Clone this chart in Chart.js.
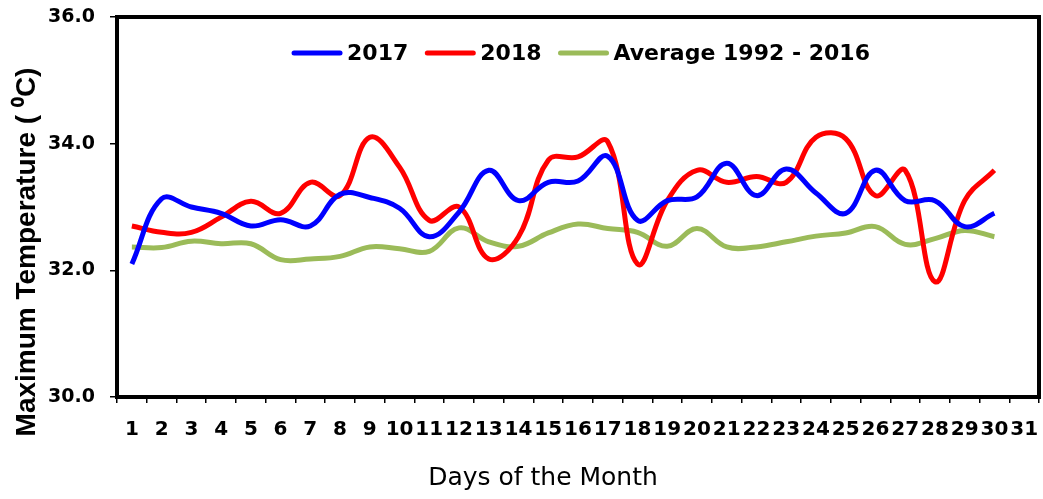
<!DOCTYPE html>
<html>
<head>
<meta charset="utf-8">
<script src="https://cdn.jsdelivr.net/npm/chart.js@4/dist/chart.umd.min.js"></script>
<style>
  html, body { margin: 0; padding: 0; background: #fff; }
  #wrap { width: 1043px; height: 499px; }
</style>
</head>
<body>
<div id="wrap"><canvas id="canvas_max_temp"></canvas></div>
<script>
// days of the month (31 categories, 30 readings)
var days = [];
for (var d = 1; d <= 31; d++) days.push(String(d));

var temp_2017 = [32.1, 33.13, 33.0, 32.9, 32.7, 32.8, 32.7, 33.2, 33.15, 32.98,
                 32.53, 32.92, 33.58, 33.1, 33.39, 33.41, 33.8, 32.79, 33.1, 33.16,
                 33.69, 33.18, 33.6, 33.22, 32.9, 33.58, 33.1, 33.1, 32.69, 32.9];

var temp_2018 = [32.7, 32.6, 32.6, 32.84, 33.09, 32.9, 33.39, 33.18, 34.1, 33.63,
                 32.79, 33.0, 32.18, 32.53, 33.74, 33.79, 34.03, 32.1, 33.1, 33.58,
                 33.39, 33.48, 33.39, 34.1, 34.08, 33.18, 33.58, 31.82, 33.1, 33.58];

var temp_avg = [32.37, 32.36, 32.46, 32.42, 32.42, 32.17, 32.18, 32.22, 32.37, 32.34,
                32.3, 32.67, 32.45, 32.38, 32.59, 32.73, 32.66, 32.6, 32.38, 32.66,
                32.37, 32.37, 32.45, 32.54, 32.59, 32.69, 32.41, 32.5, 32.63, 32.53];

var y_ticks = [30, 32, 34, 36];

var tickFont = { family: "'DejaVu Sans', sans-serif", weight: 'bold', size: 20 };

function lineSet(label, data, color) {
  return {
    label: label,
    data: data,
    borderColor: color,
    backgroundColor: color,
    borderWidth: 5,
    pointRadius: 0,
    pointHoverRadius: 0,
    tension: 0.4,
    fill: false
  };
}

// frame round the plot area, the two axis titles, and the legend inside the plot
var frameAndTitles = {
  id: 'frameAndTitles',
  afterDatasetsDraw: function(chart) {
    var ctx = chart.ctx;
    var a = chart.chartArea;
    ctx.save();
    ctx.strokeStyle = '#000';
    ctx.lineWidth = 4;
    ctx.strokeRect(a.left, a.top, a.right - a.left, a.bottom - a.top);

    ctx.fillStyle = '#000';
    ctx.textAlign = 'center';
    ctx.textBaseline = 'middle';
    ctx.font = "normal 25px 'DejaVu Sans', sans-serif";
    ctx.fillText('Days of the Month', 543, 478);

    ctx.save();
    ctx.translate(27, 252);
    ctx.rotate(-Math.PI / 2);
    ctx.font = "bold 28px 'Liberation Sans', Arial, sans-serif";
    ctx.fillText('Maximum Temperature ( \u2070C)', 0, 0);
    ctx.restore();

    // legend row
    var lineLen = 50, gap = 5, itemGap = 17, ly = a.top + 36;
    ctx.font = "bold 22px 'DejaVu Sans', sans-serif";
    ctx.textAlign = 'left';
    var sets = chart.data.datasets;
    var total = 0;
    sets.forEach(function(ds, i) {
      total += lineLen + gap + ctx.measureText(ds.label).width + (i ? itemGap : 0);
    });
    var x = 581 - total / 2;
    sets.forEach(function(ds) {
      ctx.strokeStyle = ds.borderColor;
      ctx.lineWidth = 5;
      ctx.lineCap = 'round';
      ctx.beginPath();
      ctx.moveTo(x + 2, ly);
      ctx.lineTo(x + lineLen - 2, ly);
      ctx.stroke();
      x += lineLen + gap;
      ctx.fillStyle = '#000';
      ctx.fillText(ds.label, x, ly + 1);
      x += ctx.measureText(ds.label).width + itemGap;
    });
    ctx.restore();
  }
};

function drawMaxTemp() {
  var ctx = document.getElementById('canvas_max_temp');
  var chart = new Chart(ctx, {
    type: 'line',
    data: {
      labels: days,
      datasets: [
        lineSet('2017', temp_2017, '#0000FF'),
        lineSet('2018', temp_2018, '#FF0000'),
        lineSet('Average 1992 - 2016', temp_avg, '#9BBB59')
      ]
    },
    options: {
      responsive: true,
      maintainAspectRatio: false,
      animation: false,
      layout: { padding: { top: 17, right: 4, left: 0, bottom: 0 } },
      plugins: {
        tooltip: { enabled: false },
        legend: { display: false }
      },
      scales: {
        x: {
          type: 'category',
          offset: true,
          border: { display: false },
          grid: { offset: true, drawOnChartArea: false, drawTicks: true, tickLength: 6, color: '#000', lineWidth: 1.5 },
          ticks: { autoSkip: false, maxRotation: 0, color: '#000', font: tickFont, padding: 15 },
          afterFit: function(s) {
            s.height = 102;
            s.paddingLeft = 0;
            s.paddingRight = 0;
          }
        },
        y: {
          min: 30,
          max: 36,
          border: { display: false },
          grid: { drawOnChartArea: false, drawTicks: true, tickLength: 7, color: '#000', lineWidth: 1.5 },
          afterBuildTicks: function(s) {
            s.ticks = y_ticks.map(function(v) { return { value: v }; });
          },
          ticks: {
            color: '#000',
            font: { family: "'DejaVu Sans', sans-serif", weight: 'bold', size: 19 },
            padding: 15,
            callback: function(v) { return Number(v).toFixed(1); }
          },
          afterFit: function(s) {
            s.width = 117;
            s.paddingTop = 0;
            s.paddingBottom = 0;
          }
        }
      }
    },
    plugins: [frameAndTitles]
  });
}

drawMaxTemp();
</script>
</body>
</html>
